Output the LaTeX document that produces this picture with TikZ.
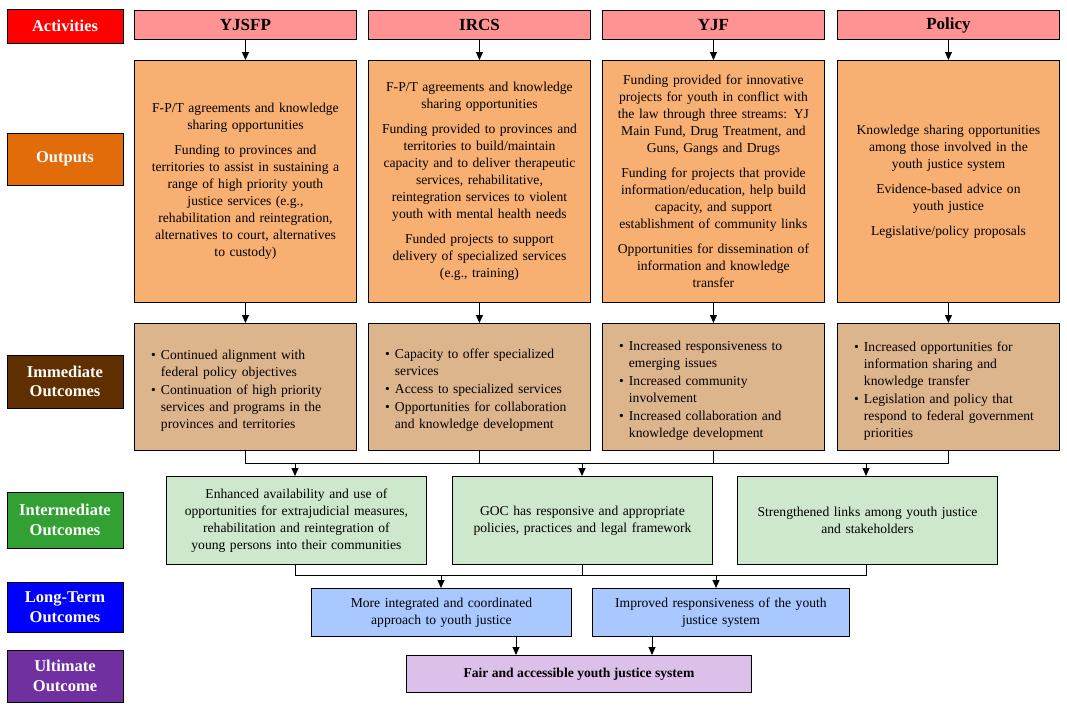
\documentclass[tikz,border=0pt]{standalone}
\usepackage{fontspec}
\setmainfont{Liberation Serif}
\usepackage{enumitem}
\usetikzlibrary{arrows.meta}
\definecolor{actL}{HTML}{FF0000}\definecolor{outL}{HTML}{E36C0A}\definecolor{immL}{HTML}{5F2F00}
\definecolor{intL}{HTML}{33A033}\definecolor{lngL}{HTML}{0000FF}\definecolor{ultL}{HTML}{7030A0}
\definecolor{actF}{HTML}{FF9393}\definecolor{outF}{HTML}{F8AF72}\definecolor{immF}{HTML}{DDB58D}
\definecolor{intF}{HTML}{CDE8CD}\definecolor{lngF}{HTML}{A8C8FF}\definecolor{ultF}{HTML}{DCC0EA}
\hyphenpenalty=10000 \exhyphenpenalty=10000 \hbadness=10000 \hfuzz=50pt
\begin{document}
\begin{tikzpicture}[x=1pt,y=-1pt,
 box/.style={draw=black,line width=0.9pt,inner sep=2pt,align=center,font=\fontsize{13.6}{17}\selectfont},
 lab/.style={box,text=white,font=\fontsize{16.5}{19.5}\selectfont\bfseries},
 arr/.style={-{Triangle[length=8pt,width=7pt]},line width=0.9pt},
 ln/.style={line width=0.9pt}]
\useasboundingbox (0,0) rectangle (1067,712);
% left labels
\draw[box,fill=actL] (7,9) rectangle (123,43) node[pos=.5,lab,draw=none] (lA) {Activities};
\draw[box,fill=outL] (7,133) rectangle (123,185) node[pos=.5,lab,draw=none] (lO) {Outputs};
\draw[box,fill=immL] (7,355) rectangle (123,408) node[pos=.5,lab,draw=none] (lI) {Immediate\\Outcomes};
\draw[box,fill=intL] (7,492) rectangle (123,548) node[pos=.5,lab,draw=none] (lM) {Intermediate\\Outcomes};
\draw[box,fill=lngL] (7,582) rectangle (123,632) node[pos=.5,lab,draw=none] (lL) {Long-Term\\Outcomes};
\draw[box,fill=ultL] (7,650) rectangle (123,702) node[pos=.5,lab,draw=none] (lU) {Ultimate\\Outcome};
% activities
\foreach \n/\x/\t in {a1/134/YJSFP,a2/368/IRCS,a3/602/YJF,a4/837/Policy}{
 \node[box,fill=actF,minimum width=222pt,minimum height=29pt,anchor=north west,font=\fontsize{17}{20}\selectfont\bfseries] (\n) at (\x,10) {\t};}
% outputs
\tikzset{ob/.style={box,fill=outF,minimum width=222pt,minimum height=242pt,text width=218pt,anchor=north west}}
\node[ob] (o1) at (134,60) {F-P/T agreements and knowledge\\ sharing opportunities\\[8pt]
Funding to provinces and\\ territories to assist in sustaining a\\ range of high priority youth\\ justice services (e.g.,\\ rehabilitation and reintegration,\\ alternatives to court, alternatives\\ to custody)};
\node[ob] (o2) at (368,60) {F-P/T agreements and knowledge\\ sharing opportunities\\[8pt]
Funding provided to provinces and\\ territories to build/maintain\\ capacity and to deliver therapeutic\\ services, rehabilitative,\\ reintegration services to violent\\ youth with mental health needs\\[8pt]
Funded projects to support\\ delivery of specialized services\\ (e.g., training)};
\node[ob] (o3) at (602,60) {Funding provided for innovative\\ projects for youth in conflict with\\ the law through three streams: YJ\\ Main Fund, Drug Treatment, and\\ Guns, Gangs and Drugs\\[8pt]
Funding for projects that provide\\ information/education, help build\\ capacity, and support\\ establishment of community links\\[8pt]
Opportunities for dissemination of\\ information and knowledge\\ transfer};
\node[ob] (o4) at (837,60) {Knowledge sharing opportunities\\ among those involved in the\\ youth justice system\\[8pt]
Evidence-based advice on\\ youth justice\\[8pt]
Legislative/policy proposals};
% immediate
\tikzset{ib/.style={box,fill=immF,minimum width=222pt,minimum height=127pt,text width=205pt,align=left,anchor=north west}}
\setlist[itemize]{leftmargin=18pt,itemsep=1pt,topsep=0pt,parsep=0pt,partopsep=0pt,label=\textbullet}
\node[ib] (i1) at (134,323) {\begin{itemize}\item Continued alignment with\newline federal policy objectives\item Continuation of high priority\newline services and programs in the\newline provinces and territories\end{itemize}};
\node[ib] (i2) at (368,323) {\begin{itemize}\item Capacity to offer specialized\newline services\item Access to specialized services\item Opportunities for collaboration\newline and knowledge development\end{itemize}};
\node[ib] (i3) at (602,323) {\begin{itemize}\item Increased responsiveness to\newline emerging issues\item Increased community\newline involvement\item Increased collaboration and\newline knowledge development\end{itemize}};
\node[ib] (i4) at (837,323) {\begin{itemize}\item Increased opportunities for\newline information sharing and\newline knowledge transfer\item Legislation and policy that\newline respond to federal government\newline priorities\end{itemize}};
% intermediate
\tikzset{mb/.style={box,fill=intF,minimum width=260pt,minimum height=88pt,text width=254pt,anchor=north west}}
\node[mb] (m1) at (166,476) {Enhanced availability and use of\\ opportunities for extrajudicial measures,\\ rehabilitation and reintegration of\\ young persons into their communities};
\node[mb] (m2) at (452,476) {GOC has responsive and appropriate\\ policies, practices and legal framework};
\node[mb] (m3) at (737,476) {Strengthened links among youth justice\\ and stakeholders};
% long-term
\tikzset{lb/.style={box,fill=lngF,minimum height=48pt,anchor=north west,text width=240pt}}
\node[lb,minimum width=260pt] (t1) at (311,588) {More integrated and coordinated\\ approach to youth justice\\[6pt]};
\node[lb,minimum width=257pt] (t2) at (592,588) {Improved responsiveness of the youth\\ justice system\\[6pt]};
% ultimate
\node[box,fill=ultF,minimum width=345pt,minimum height=37pt,anchor=north west,font=\fontsize{13.6}{17}\selectfont\bfseries] (u) at (406,655) {Fair and accessible youth justice system};
% connectors
\foreach \i in {1,2,3,4}{\draw[arr] (a\i) -- (o\i); \draw[arr] (o\i) -- (i\i);}
\coordinate (b1) at (0,463);
\draw[ln] (i1.south) |- (b1 -| i4.south) -- (i4.south);
\draw[ln] (i2.south) -- (i2.south |- b1); \draw[ln] (i3.south) -- (i3.south |- b1);
\coordinate (m1t) at (295,476); \coordinate (m2t) at (582,476); \coordinate (m3t) at (866,476);
\draw[arr] (m1t |- b1) -- (m1t);
\draw[arr] (m2t |- b1) -- (m2t);
\draw[arr] (m3t |- b1) -- (m3t);
\coordinate (b2) at (0,575);
\draw[ln] (m1t |- m1.south) |- (b2 -| m3t) -- (m3t |- m3.south);
\draw[ln] (m2t |- m2.south) -- (m2t |- b2);
\coordinate (t1t) at (441,588); \coordinate (t2t) at (716,588);
\draw[arr] (t1t |- b2) -- (t1t);
\draw[arr] (t2t |- b2) -- (t2t);
\coordinate (t1b) at (516,636); \coordinate (t2b) at (652,636);
\draw[arr] (t1b) -- (t1b |- u.north);
\draw[arr] (t2b) -- (t2b |- u.north);
\end{tikzpicture}
\end{document}
